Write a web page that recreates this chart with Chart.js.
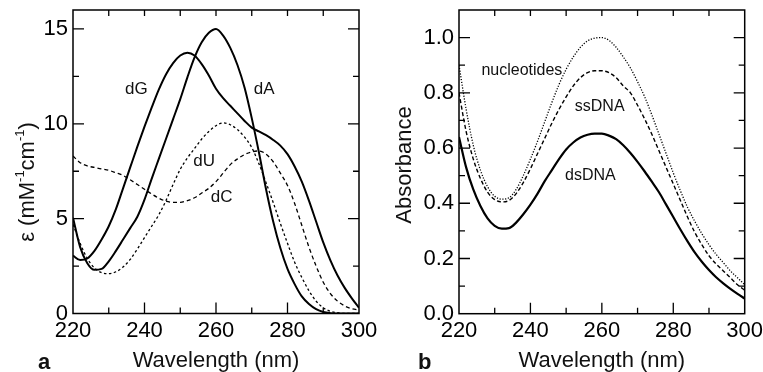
<!DOCTYPE html>
<html><head><meta charset="utf-8">
<script src="https://cdn.jsdelivr.net/npm/chart.js@4.4.0/dist/chart.umd.min.js"></script>
<style>
html,body{margin:0;padding:0;background:#fff;}
#wrap{position:relative;width:763px;height:372px;overflow:hidden;background:#fff;}
canvas{position:absolute;top:0;}
#ca{left:0;} #cb{left:381px;}
</style></head><body>
<div id="wrap"><canvas id="ca" width="381" height="372"></canvas><canvas id="cb" width="382" height="372"></canvas></div>
<script>
// ---------- data ----------
const wavelength = [220,222,224,226,228,230,232,234,236,238,240,242,244,246,248,250,252,254,256,258,260,262,264,266,268,270,272,274,276,278,280,282,284,286,288,290,292,294,296,298,300];
// panel a: molar extinction coefficients (mM^-1 cm^-1)
const dA = [5.05,3.5,2.65,2.3,2.35,2.75,3.3,3.9,4.5,5.1,6.0,7.1,8.15,9.2,10.25,11.3,12.45,13.5,14.3,14.8,15.0,14.65,14.0,13.1,11.9,10.3,8.5,6.55,4.85,3.45,2.35,1.55,0.9,0.5,0.23,0.08,0.02,0,0,0,0];
const dG = [3.05,2.82,2.9,3.3,3.9,4.6,5.5,6.6,7.7,8.8,9.85,10.85,11.8,12.6,13.2,13.6,13.75,13.6,13.15,12.55,11.85,11.35,10.95,10.55,10.15,9.8,9.6,9.4,9.15,8.85,8.4,7.75,6.95,5.95,4.85,3.75,2.8,2.0,1.35,0.8,0.3];
const dU = [4.7,3.7,2.9,2.4,2.15,2.1,2.2,2.45,2.85,3.4,4.0,4.6,5.2,5.95,6.8,7.6,8.2,8.7,9.2,9.6,9.9,10.05,9.95,9.7,9.3,8.75,7.9,6.9,5.85,4.75,3.7,2.7,1.9,1.2,0.65,0.3,0.12,0.04,0,0,0];
const dC = [8.3,7.95,7.78,7.7,7.62,7.55,7.42,7.28,7.05,6.8,6.55,6.3,6.08,5.92,5.86,5.86,5.95,6.1,6.35,6.6,6.95,7.4,7.85,8.15,8.38,8.52,8.57,8.4,8.0,7.4,6.75,5.8,4.65,3.5,2.5,1.65,1.05,0.65,0.4,0.25,0.18];
// panel b: absorbance
const nucleotides = [0.9,0.74,0.61,0.52,0.46,0.425,0.415,0.42,0.45,0.5,0.56,0.625,0.695,0.765,0.83,0.885,0.93,0.965,0.988,0.998,1.0,0.99,0.965,0.93,0.89,0.84,0.785,0.72,0.65,0.58,0.51,0.445,0.385,0.335,0.29,0.25,0.215,0.185,0.155,0.13,0.105];
const ssDNA = [0.8,0.66,0.56,0.49,0.44,0.413,0.405,0.41,0.435,0.475,0.525,0.58,0.635,0.69,0.74,0.785,0.825,0.855,0.873,0.88,0.88,0.873,0.855,0.825,0.8,0.755,0.705,0.65,0.59,0.53,0.47,0.41,0.35,0.295,0.25,0.21,0.18,0.155,0.13,0.105,0.085];
const dsDNA = [0.64,0.53,0.45,0.39,0.345,0.318,0.308,0.31,0.33,0.36,0.395,0.435,0.48,0.52,0.56,0.595,0.62,0.638,0.648,0.652,0.652,0.645,0.632,0.61,0.582,0.55,0.515,0.478,0.44,0.395,0.35,0.305,0.262,0.222,0.188,0.158,0.132,0.11,0.09,0.072,0.055];
// tick labels
const xTickValues = [220,240,260,280,300];
const yTickValuesA = [0,5,10,15];
const yTickValuesB = [0.0,0.2,0.4,0.6,0.8,1.0];
// curve annotations (text, data-space anchor)
const curveLabelsA = [['dG',237.7,11.8],['dA',273.5,11.8],['dU',256.7,8.0],['dC',261.6,6.15]];
const curveLabelsB = [['nucleotides',237.6,0.879],['ssDNA',259.4,0.75],['dsDNA',256.8,0.501]];

const FONT = '"Liberation Sans", Arial, Helvetica, sans-serif';

function pts(ys){ return wavelength.map((x,i)=>({x:x, y:ys[i]})); }
function series(label, ys, width, dash){
  return {label:label, data:pts(ys), borderColor:'#000', backgroundColor:'#000', borderWidth:width,
    borderDash:dash, pointRadius:0, fill:false, cubicInterpolationMode:'monotone', borderCapStyle:'butt'};
}

function decoPlugin(cfg){
  return {
    id:'deco',
    afterDatasetsDraw(chart){
      const ctx = chart.ctx, a = chart.chartArea, xs = chart.scales.x, ys = chart.scales.y;
      ctx.save();
      ctx.strokeStyle = '#000'; ctx.lineWidth = 1.5; ctx.setLineDash([]);
      ctx.strokeRect(a.left, a.top, a.right - a.left, a.bottom - a.top);
      ctx.lineWidth = 1.3;
      ctx.beginPath();
      for (let i = 0; i <= 8; i++) {
        const v = 220 + i*10, px = xs.getPixelForValue(v), major = (i % 2 === 0);
        if (i > 0 && i < 8) {
          ctx.moveTo(px, a.bottom); ctx.lineTo(px, a.bottom - (major ? 11 : 6));
          ctx.moveTo(px, a.top); ctx.lineTo(px, a.top + 6);
        }
      }
      for (let i = 1; i * cfg.minor < cfg.ymax - 1e-9; i++) {
        const py = ys.getPixelForValue(i * cfg.minor), major = (i % 2 === 0);
        const L = major ? 11 : 6;
        ctx.moveTo(a.left, py); ctx.lineTo(a.left + L, py);
        ctx.moveTo(a.right, py); ctx.lineTo(a.right - L, py);
      }
      ctx.stroke();
      // curve labels
      ctx.fillStyle = '#111';
      ctx.font = cfg.labelSize + 'px ' + FONT;
      ctx.textAlign = 'center'; ctx.textBaseline = 'middle';
      cfg.labels.forEach(l => ctx.fillText(l[0], xs.getPixelForValue(l[1]), ys.getPixelForValue(l[2])));
      // x title
      ctx.font = '22px ' + FONT; ctx.textBaseline = 'alphabetic';
      ctx.fillText('Wavelength (nm)', (a.left + a.right)/2, 367);
      // panel letter
      ctx.font = 'bold 22px ' + FONT; ctx.textAlign = 'left';
      ctx.fillText(cfg.letter, cfg.letterX, 369);
      // y title
      ctx.translate(cfg.ytX, cfg.ytY); ctx.rotate(-Math.PI/2);
      const parts = cfg.ytitle;
      let total = 0;
      parts.forEach(p => { ctx.font = (p[1] ? '13px ' : '22px ') + FONT; total += ctx.measureText(p[0]).width; });
      let cx = -total/2;
      ctx.textBaseline = 'middle'; ctx.textAlign = 'left';
      parts.forEach(p => {
        ctx.font = (p[1] ? '13px ' : '22px ') + FONT;
        ctx.fillText(p[0], cx, p[1] ? -8 : 0);
        cx += ctx.measureText(p[0]).width;
      });
      ctx.restore();
    }
  };
}

function options(cfg){
  return {
    responsive:false, animation:false, devicePixelRatio:1,
    layout:{padding:{left:0, top:10, right:cfg.right, bottom:0}},
    plugins:{legend:{display:false}, tooltip:{enabled:false}},
    scales:{
      x:{type:'linear', min:220, max:300,
        afterBuildTicks: s => { s.ticks = xTickValues.map(v => ({value:v})); },
        ticks:{font:{family:FONT, size:22}, color:'#000', padding:4, maxRotation:0, autoSkip:false, callback:v => String(v)},
        grid:{display:false, drawTicks:false}, border:{display:false},
        afterFit: s => { s.height = cfg.xh; s.paddingLeft = 0; s.paddingRight = 0; }
      },
      y:{type:'linear', min:0, max:cfg.ymax,
        afterBuildTicks: s => { s.ticks = cfg.yTicks.map(v => ({value:v})); },
        ticks:{font:{family:FONT, size:22}, color:'#000', padding:5, autoSkip:false, callback:cfg.fmt},
        grid:{display:false, drawTicks:false}, border:{display:false},
        afterFit: s => { s.width = cfg.yw; s.paddingTop = 0; s.paddingBottom = 0; }
      }
    }
  };
}

const cfgA = {right:22, xh:58.5, yw:73, ymax:16, minor:2.5, yTicks:yTickValuesA, fmt:v => String(v),
  labels:curveLabelsA, labelSize:17, letter:'a', letterX:38, ytX:28, ytY:182,
  ytitle:[['ε (mM',0],['-1',1],['cm',0],['-1',1],[')',0]]};
const cfgB = {right:18.3, xh:58.3, yw:78, ymax:1.1, minor:0.1, yTicks:yTickValuesB, fmt:v => Number(v).toFixed(1),
  labels:curveLabelsB, labelSize:16, letter:'b', letterX:37, ytX:24, ytY:165,
  ytitle:[['Absorbance',0]]};

new Chart(document.getElementById('ca'), {
  type:'line',
  data:{datasets:[
    series('dA', dA, 2, []),
    series('dG', dG, 2, []),
    series('dU', dU, 1.3, [2.5,2.5]),
    series('dC', dC, 1.3, [4,3])
  ]},
  options:options(cfgA),
  plugins:[decoPlugin(cfgA)]
});
new Chart(document.getElementById('cb'), {
  type:'line',
  data:{datasets:[
    series('nucleotides', nucleotides, 1.3, [1.2,1.6]),
    series('ssDNA', ssDNA, 1.4, [4,2.5]),
    series('dsDNA', dsDNA, 2.2, [])
  ]},
  options:options(cfgB),
  plugins:[decoPlugin(cfgB)]
});
</script>
</body></html>
